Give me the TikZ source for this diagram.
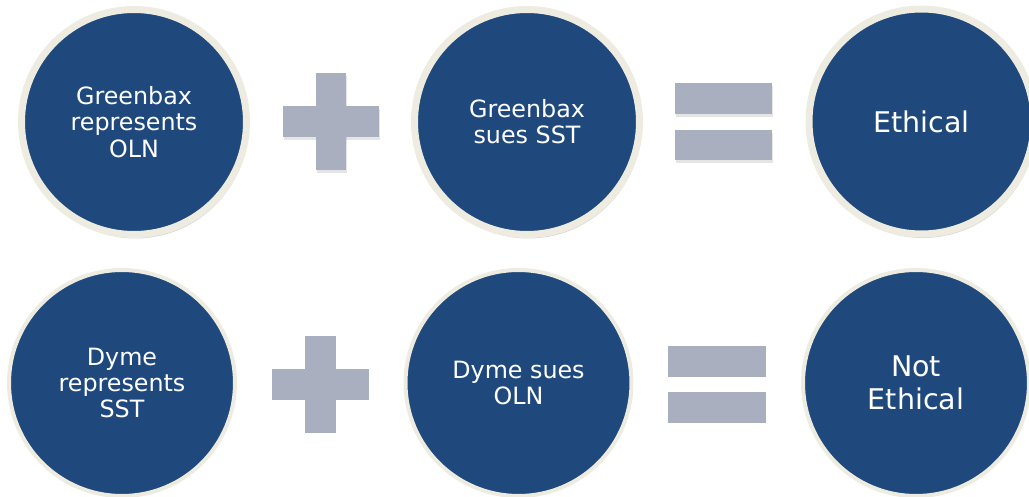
\documentclass[tikz,border=0pt]{standalone}
\usepackage{fontspec}
\setmainfont{DejaVu Sans}
\usetikzlibrary{shadows}
\definecolor{discblue}{RGB}{31,73,125}
\definecolor{rimbeige}{RGB}{238,236,225}
\definecolor{signgrey}{RGB}{169,175,190}
\begin{document}
\begin{tikzpicture}[x=1pt,y=-1pt,
  disc/.style={circle, fill=discblue, draw=rimbeige, inner sep=0pt, text=white, align=center,
    font=\fontsize{23.8}{26.2}\selectfont},
  topdisc/.style={disc, line width=7pt, minimum size=225pt,
    drop shadow={shadow xshift=1.5pt, shadow yshift=-4pt, opacity=0.15, fill=black}},
  botdisc/.style={disc, line width=4pt, minimum size=226pt},
  bigtext/.style={font=\fontsize{28.5}{32.5}\selectfont},
  bar/.style={rectangle, fill=signgrey, inner sep=0pt, outer sep=0pt, draw=none},
  barshadow/.style={fill=black, opacity=0.10}
]
\useasboundingbox (0,0) rectangle (1029,497);

% top row discs
\node[topdisc] (g1) at (134,122) {Greenbax\\represents\\OLN};
\node[topdisc] (g2) at (527,122) {Greenbax\\sues SST};
\node[topdisc, bigtext] (g3) at (921.5,121.5) {Ethical};

% top plus (with faint shadow)
\fill[barshadow] (317,76) rectangle (347,173);
\fill[barshadow] (284,109) rectangle (380,140);
\node[bar, minimum width=30pt, minimum height=97pt] (plusAv) at (331,121.5) {};
\node[bar, minimum width=96pt, minimum height=31pt] (plusAh) at (331,121.5) {};

% top equals
\fill[barshadow] (676,86) rectangle (773,117);
\fill[barshadow] (676,133) rectangle (773,163);
\node[bar, minimum width=97pt, minimum height=31pt] (eqAt) at (723.5,98.5) {};
\node[bar, minimum width=97pt, minimum height=30pt] (eqAb) at (723.5,145) {};

% bottom row discs
\node[botdisc] (d1) at (122,383) {Dyme\\represents\\SST};
\node[botdisc] (d2) at (518.5,383) {Dyme sues\\OLN};
\node[botdisc, bigtext] (d3) at (916,383) {Not\\Ethical};

% bottom plus
\node[bar, minimum width=31pt, minimum height=97pt] (plusBv) at (320.5,384.5) {};
\node[bar, minimum width=97pt, minimum height=31pt] (plusBh) at (320.5,384.5) {};

% bottom equals
\node[bar, minimum width=98pt, minimum height=31pt] (eqBt) at (717,361.5) {};
\node[bar, minimum width=98pt, minimum height=31pt] (eqBb) at (717,407.5) {};
\end{tikzpicture}
\end{document}
